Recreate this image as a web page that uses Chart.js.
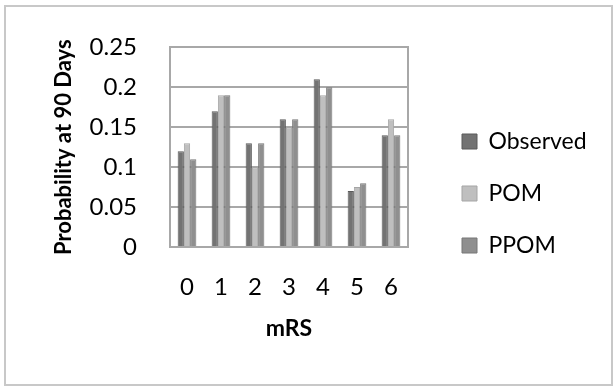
<!DOCTYPE html>
<html>
<head>
<meta charset="utf-8">
<script src="https://cdn.jsdelivr.net/npm/chart.js@4"></script>
<style>
  html, body { margin: 0; padding: 0; background: #fff; }
  #wrap { position: relative; width: 614px; height: 387px; }
  #frame { position: absolute; left: 4px; top: 5px; width: 605px; height: 377px; border: 2px solid #c8c8c8; }
  #myChart { position: absolute; left: 0; top: 0; }
</style>
</head>
<body>
<div id="wrap">
  <div id="frame"></div>
  <canvas id="myChart" width="614" height="387"></canvas>
</div>
<script>
'use strict';

const categories = ['0', '1', '2', '3', '4', '5', '6'];
const observed = [0.12, 0.17, 0.13, 0.16, 0.21, 0.07, 0.14];
const pom = [0.13, 0.19, 0.10, 0.15, 0.19, 0.075, 0.16];
const ppom = [0.11, 0.19, 0.13, 0.16, 0.20, 0.08, 0.14];
const yTicks = [0, 0.05, 0.1, 0.15, 0.2, 0.25];

const gridGray = '#a8a8a8';
const font = 'Lato, "Open Sans", sans-serif';

// fixed legend width so the plot area stays where the reference has it
const legendWidth = {
	id: 'legendWidth',
	beforeLayout(chart) {
		const lg = chart.legend;
		if (lg && !lg._fixed) {
			const fit = lg.fit.bind(lg);
			lg.fit = function () {
				fit();
				this.width = 181;
			};
			lg._fixed = true;
		}
	},
};

const ctx = document.getElementById('myChart').getContext('2d');

const myChart = new Chart(ctx, {
	type: 'bar',
	data: {
		labels: categories,
		datasets: [
			{ label: 'Observed', data: observed, backgroundColor: '#737373', borderColor: '#5a5a5a', borderWidth: 1 },
			{ label: 'POM', data: pom, backgroundColor: '#bfbfbf', borderColor: '#a5a5a5', borderWidth: 1 },
			{ label: 'PPOM', data: ppom, backgroundColor: '#8f8f8f', borderColor: '#777777', borderWidth: 1 },
		],
	},
	plugins: [legendWidth],
	options: {
		responsive: false,
		animation: false,
		layout: { padding: { left: 51, top: 45, bottom: 45, right: 0 } },
		datasets: { bar: { categoryPercentage: 0.55, barPercentage: 1.0 } },
		plugins: {
			tooltip: { enabled: false },
			legend: {
				position: 'right',
				labels: {
					boxWidth: 15,
					boxHeight: 15,
					padding: 29,
					color: '#000',
					font: { family: font, size: 23 },
				},
			},
		},
		scales: {
			x: {
				grid: { display: false, drawTicks: false },
				border: { display: true, color: gridGray, width: 2 },
				ticks: { color: '#000', padding: 26, font: { family: font, size: 24 } },
				title: { display: true, text: 'mRS', color: '#000', padding: 0, font: { family: font, size: 23, weight: 'bold' } },
				afterFit: (scale) => { scale.height = 95; },
			},
			y: {
				min: 0,
				max: 0.25,
				afterBuildTicks: (scale) => { scale.ticks = yTicks.map((v) => ({ value: v })); },
				grid: { color: gridGray, lineWidth: 2, drawTicks: false },
				border: { display: true, color: gridGray, width: 2 },
				ticks: { color: '#000', padding: 33, font: { family: font, size: 24 }, callback: (v) => String(v) },
				title: { display: true, text: 'Probability at 90 Days', color: '#000', padding: 0, font: { family: font, size: 22, weight: 'bold' } },
				afterFit: (scale) => { scale.width = 119; },
			},
			yRight: {
				position: 'right',
				min: 0,
				max: 0.25,
				grid: { drawOnChartArea: false, drawTicks: false },
				border: { display: true, color: gridGray, width: 2 },
				ticks: { display: false },
				afterFit: (scale) => { scale.width = 25; },
			},
		},
	},
});
</script>
</body>
</html>
